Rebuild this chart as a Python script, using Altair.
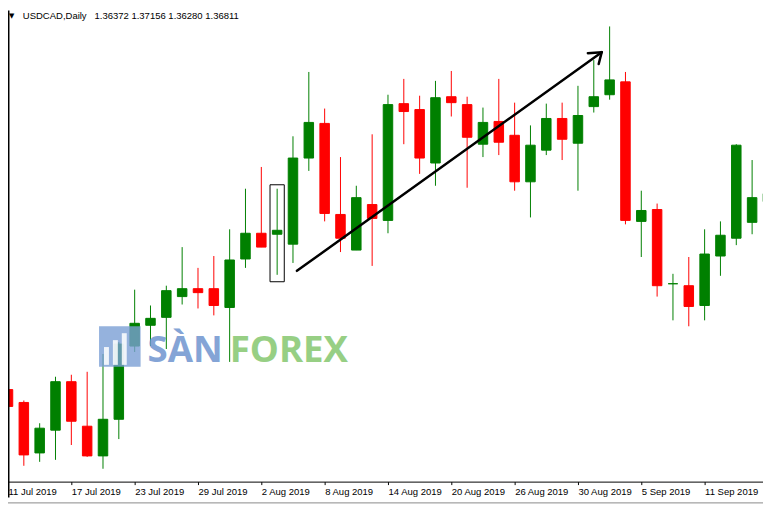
import altair as alt
import pandas as pd

# ---- data ----
bar_index = list(range(49))
opens = [1.3009, 1.2996, 1.2945, 1.2968, 1.3017, 1.2972, 1.2942, 1.2979, 1.3053, 1.3074,
         1.3082, 1.3103, 1.3111, 1.3111, 1.3092, 1.3141, 1.3167, 1.3166, 1.3156, 1.3243,
         1.3278, 1.3186, 1.3150, 1.3196, 1.3180, 1.3298, 1.3292, 1.3238, 1.3305, 1.3297,
         1.3257, 1.3280, 1.3266, 1.3219, 1.3251, 1.3283, 1.3258, 1.3295, 1.3307, 1.3320,
         1.3179, 1.3191, 1.3116, 1.3114, 1.3094, 1.3144, 1.3162, 1.3178, 1.3199]
highs = [1.3022, 1.2998, 1.2975, 1.3022, 1.3024, 1.3027, 1.3045, 1.3057, 1.3110, 1.3094,
         1.3114, 1.3153, 1.3132, 1.3144, 1.3171, 1.3212, 1.3234, 1.3212, 1.3265, 1.3330,
         1.3293, 1.3244, 1.3215, 1.3267, 1.3307, 1.3323, 1.3306, 1.3321, 1.3331, 1.3305,
         1.3294, 1.3323, 1.3299, 1.3276, 1.3298, 1.3299, 1.3316, 1.3342, 1.3376, 1.3330,
         1.3210, 1.3197, 1.3126, 1.3143, 1.3171, 1.3179, 1.3257, 1.3241, 1.3215]
lows = [1.2961, 1.2932, 1.2936, 1.2938, 1.2953, 1.2941, 1.2929, 1.2959, 1.3047, 1.3053,
        1.3050, 1.3095, 1.3091, 1.3084, 1.3037, 1.3132, 1.3153, 1.3125, 1.3137, 1.3230,
        1.3179, 1.3148, 1.3150, 1.3134, 1.3167, 1.3257, 1.3227, 1.3215, 1.3285, 1.3213,
        1.3244, 1.3246, 1.3210, 1.3183, 1.3246, 1.3241, 1.3210, 1.3289, 1.3302, 1.3176,
        1.3143, 1.3103, 1.3079, 1.3073, 1.3079, 1.3124, 1.3155, 1.3166, 1.3188]
closes = [1.2992, 1.2943, 1.2970, 1.3017, 1.2977, 1.2942, 1.2979, 1.3055, 1.3076, 1.3081,
          1.3109, 1.3111, 1.3107, 1.3094, 1.3140, 1.3167, 1.3153, 1.3170, 1.3243, 1.3279,
          1.3187, 1.3162, 1.3203, 1.3182, 1.3297, 1.3290, 1.3243, 1.3304, 1.3299, 1.3264,
          1.3279, 1.3259, 1.3219, 1.3256, 1.3283, 1.3262, 1.3286, 1.3305, 1.3322, 1.3180,
          1.3190, 1.3114, 1.3116, 1.3093, 1.3146, 1.3165, 1.3256, 1.3203, 1.3207]

tick_positions = [0, 4, 8, 12, 16, 20, 24, 28, 32, 36, 40, 44]
tick_labels = ["11 Jul 2019", "17 Jul 2019", "23 Jul 2019", "29 Jul 2019", "2 Aug 2019",
               "8 Aug 2019", "14 Aug 2019", "20 Aug 2019", "26 Aug 2019", "30 Aug 2019",
               "5 Sep 2019", "11 Sep 2019"]

header_text = "USDCAD,Daily\u00a0\u00a0 1.36372 1.37156 1.36280 1.36811"

# annotations (bar index / price)
box_x = [16.55, 17.45]
box_y = [1.3118, 1.3216]
arrow_x = [18.25, 36.625, 37.31]
arrow_y = [1.3129, 1.3349, 1.3338]
arrow_tip = [37.5, 1.3350]

df = pd.DataFrame({"i": bar_index, "open": opens, "high": highs, "low": lows, "close": closes})
df["dir"] = ["up" if c >= o else "down" for o, c in zip(opens, closes)]

X_DOMAIN = [0, 47.6875]
Y_DOMAIN = [1.2916, 1.3392]
xs = alt.Scale(domain=X_DOMAIN, nice=False, zero=False)
ys = alt.Scale(domain=Y_DOMAIN, nice=False, zero=False)
col = alt.Color("dir:N", scale=alt.Scale(domain=["up", "down"], range=["#008000", "#ff0000"]), legend=None)

label_expr = "[" + ",".join("'" + t + "'" for t in tick_labels) + "][round(datum.value/4)]"

base = alt.Chart(df)

wicks = base.mark_rule(strokeWidth=1, clip=True).encode(
    x=alt.X("i:Q", scale=xs, title=None,
            axis=alt.Axis(values=tick_positions, labelExpr=label_expr, grid=False,
                          domainColor="black", domainWidth=1, tickColor="black", tickSize=3,
                          labelAlign="left", labelBaseline="top", labelPadding=2,
                          labelFont="Liberation Sans", labelFontSize=9.6, labelColor="black",
                          labelBound=False, labelFlush=False, labelOverlap=False)),
    y=alt.Y("low:Q", scale=ys, axis=None),
    y2="high:Q",
    color=col,
)

bodies = base.transform_calculate(
    x1="datum.i - 0.3", x2="datum.i + 0.3"
).mark_rect(clip=True, strokeWidth=1).encode(
    x=alt.X("x1:Q", scale=xs),
    x2="x2:Q",
    y=alt.Y("open:Q", scale=ys),
    y2="close:Q",
    color=col,
    stroke=col,
)

box_df = pd.DataFrame({"x1": [box_x[0]], "x2": [box_x[1]], "y1": [box_y[0]], "y2": [box_y[1]]})
box = alt.Chart(box_df).mark_rect(fillOpacity=0, stroke="black", strokeWidth=1).encode(
    x=alt.X("x1:Q", scale=xs), x2="x2:Q", y=alt.Y("y1:Q", scale=ys), y2="y2:Q")

arr_df = pd.DataFrame({"x1": arrow_x, "y1": arrow_y,
                       "x2": [arrow_tip[0]] * 3, "y2": [arrow_tip[1]] * 3})
arrow = alt.Chart(arr_df).mark_rule(color="black", strokeWidth=2.5, strokeCap="round").encode(
    x=alt.X("x1:Q", scale=xs), y=alt.Y("y1:Q", scale=ys), x2="x2:Q", y2="y2:Q")

one = pd.DataFrame({"a": [1]})
left_border = alt.Chart(one).mark_rule(color="black", strokeWidth=1.5).encode(
    x=alt.value(0.75), y=alt.value(0), y2=alt.value(492))
bottom_line = alt.Chart(one).mark_rule(color="#8a8a8a", strokeWidth=1).encode(
    x=alt.value(0), x2=alt.value(763), y=alt.value(497.5))

tri = alt.Chart(pd.DataFrame({"t": ["\u25bc"]})).mark_text(
    font="DejaVu Sans", fontSize=7, align="left", baseline="top", color="black").encode(
    x=alt.value(1), y=alt.value(1), text="t:N")
header = alt.Chart(pd.DataFrame({"t": [header_text]})).mark_text(
    font="Liberation Sans", fontSize=9.6, align="left", baseline="top", color="black").encode(
    x=alt.value(15), y=alt.value(0), text="t:N")

# watermark
wm_sq = alt.Chart(one).mark_rect(color="#7b9fd4", opacity=0.8).encode(
    x=alt.value(92), x2=alt.value(134), y=alt.value(319), y2=alt.value(360))
wm_bars_df = pd.DataFrame({"a": [0, 1, 2], "x1": [97, 106, 115], "x2": [102, 111, 120],
                           "y1": [340, 333, 326], "y2": [358, 358, 358]})
wm_bars = alt.Chart(wm_bars_df).mark_rect(color="white", opacity=0.85).encode(
    x=alt.X("x1:Q", scale=None), x2="x2:Q", y=alt.Y("y1:Q", scale=None), y2="y2:Q")
wm_san = alt.Chart(pd.DataFrame({"t": ["S\u00c0N"]})).mark_text(
    font="Open Sans", fontSize=37, fontWeight="bold", align="left", baseline="alphabetic",
    color="#6f95cf", opacity=0.85).encode(x=alt.value(141), y=alt.value(355), text="t:N")
wm_forex = alt.Chart(pd.DataFrame({"t": ["FOREX"]})).mark_text(
    font="Open Sans", fontSize=37, fontWeight="bold", align="left", baseline="alphabetic",
    color="#86c76f", opacity=0.85).encode(x=alt.value(224), y=alt.value(355), text="t:N")

chart = alt.layer(
    wicks, bodies, box, arrow, left_border, bottom_line, tri, header,
    wm_sq, wm_bars, wm_san, wm_forex
).resolve_scale(color="shared").properties(
    width=763, height=476,
    autosize=alt.AutoSizeParams(type="none"),
    padding={"left": 0, "top": 0, "right": 0, "bottom": 23},
    background="white",
).configure_view(stroke=None)

chart.save("out.html", embed_options={"renderer": "svg", "actions": False})
